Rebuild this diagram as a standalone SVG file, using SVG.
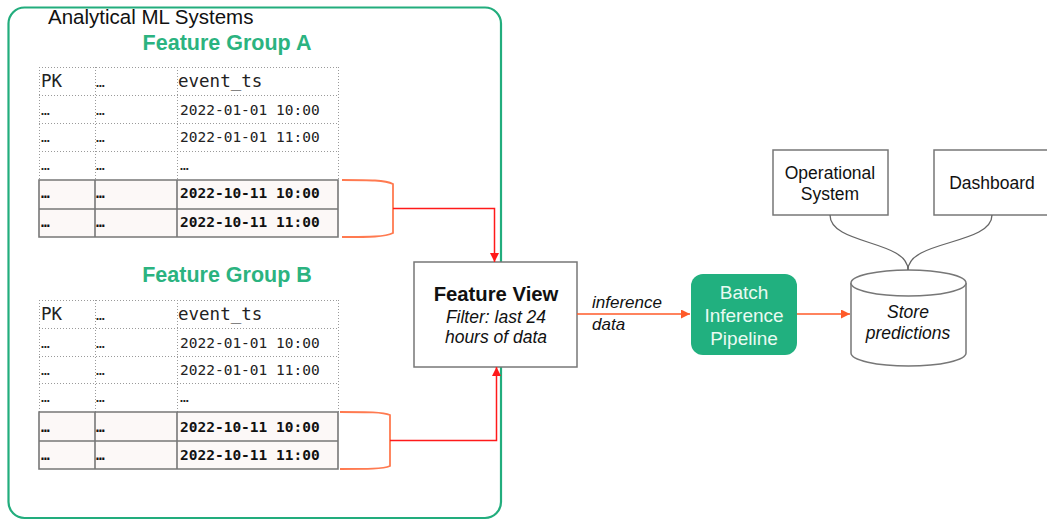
<svg xmlns="http://www.w3.org/2000/svg" width="1047" height="520" viewBox="0 0 1047 520">
  <style>
    .sans { font-family: "Liberation Sans", Arial, sans-serif; }
    .mono { font-family: "DejaVu Sans Mono", "Liberation Mono", monospace; font-size: 14.5px; fill: #222; }
    .mono-b { font-family: "DejaVu Sans Mono", "Liberation Mono", monospace; font-size: 14.5px; font-weight: bold; fill: #111; }
    .hdr { font-family: "DejaVu Sans Mono", "Liberation Mono", monospace; font-size: 17.5px; fill: #222; }
    .dots { stroke: #9a9a9a; stroke-width: 1; stroke-dasharray: 1 2; fill: none; }
    .solid { stroke: #777; stroke-width: 1.6; fill: none; }
    .hl { fill: #fcf8f7; }
    .box { fill: #fff; stroke: #777; stroke-width: 1.5; }
    .title { font-family: "Liberation Sans", Arial, sans-serif; font-size: 21.5px; font-weight: bold; fill: #2bb380; }
    .brace { stroke: #ff7a50; stroke-width: 1.8; fill: none; }
    .feed { stroke: #ff1a1a; stroke-width: 1.5; fill: none; }
    .flow { stroke: #ff5a28; stroke-width: 1.5; fill: none; }
    .link { stroke: #666; stroke-width: 1.3; fill: none; }
  </style>
  <defs>
    <marker id="arrRed" viewBox="0 0 10 10" refX="10" refY="5" markerWidth="11" markerHeight="9" markerUnits="userSpaceOnUse" orient="auto">
      <path d="M0,0 L10,5 L0,10 z" fill="#ff1a1a"/>
    </marker>
    <marker id="arrOrange" viewBox="0 0 10 10" refX="10" refY="5" markerWidth="10" markerHeight="9" markerUnits="userSpaceOnUse" orient="auto">
      <path d="M0,0 L10,5 L0,10 z" fill="#ff5a28"/>
    </marker>
  </defs>

  <rect width="1047" height="520" fill="#fff"/>

  <!-- Analytical ML Systems container -->
  <g id="analytical-systems">
    <rect x="8.5" y="7.5" width="492.5" height="510.5" rx="16" fill="none" stroke="#22ad7d" stroke-width="2.2"/>
    <text x="48" y="24" class="sans" font-size="20.5" fill="#111">Analytical ML Systems</text>
  </g>

  <!-- Feature Group A table -->
  <g id="feature-group-a">
    <text x="227" y="50" class="title" text-anchor="middle">Feature Group A</text>
    <rect x="39" y="180" width="299" height="57" class="hl"/>
    <path class="dots" d="M39,67.5 H338 M39,95.5 H338 M39,123.5 H338 M39,151.5 H338 M39.5,67 V180 M95.5,67 V180 M177.5,67 V180 M338.5,67 V180"/>
    <path class="solid" d="M39,180 H338 V237 H39 Z M39,209 H338 M95,180 V237 M177,180 V237"/>
    <text x="41" y="87" class="hdr">PK</text>
    <text x="96" y="87" class="mono">…</text>
    <text x="178" y="87" class="hdr">event_ts</text>
    <text x="41" y="115" class="mono">…</text>
    <text x="96" y="115" class="mono">…</text>
    <text x="180" y="115" class="mono">2022-01-01 10:00</text>
    <text x="41" y="142" class="mono">…</text>
    <text x="96" y="142" class="mono">…</text>
    <text x="180" y="142" class="mono">2022-01-01 11:00</text>
    <text x="41" y="170" class="mono">…</text>
    <text x="96" y="170" class="mono">…</text>
    <text x="180" y="170" class="mono">…</text>
    <text x="41" y="198" class="mono-b">…</text>
    <text x="96" y="198" class="mono-b">…</text>
    <text x="180" y="198" class="mono-b">2022-10-11 10:00</text>
    <text x="41" y="227" class="mono-b">…</text>
    <text x="96" y="227" class="mono-b">…</text>
    <text x="180" y="227" class="mono-b">2022-10-11 11:00</text>
  </g>

  <!-- Feature Group B table -->
  <g id="feature-group-b">
    <text x="227" y="282" class="title" text-anchor="middle">Feature Group B</text>
    <rect x="39" y="412" width="299" height="57" class="hl"/>
    <path class="dots" d="M39,300.5 H338 M39,328.5 H338 M39,356.5 H338 M39,383.5 H338 M39.5,300 V412 M95.5,300 V412 M177.5,300 V412 M338.5,300 V412"/>
    <path class="solid" d="M39,412 H338 V469 H39 Z M39,441 H338 M95,412 V469 M177,412 V469"/>
    <text x="41" y="320" class="hdr">PK</text>
    <text x="96" y="320" class="mono">…</text>
    <text x="178" y="320" class="hdr">event_ts</text>
    <text x="41" y="348" class="mono">…</text>
    <text x="96" y="348" class="mono">…</text>
    <text x="180" y="348" class="mono">2022-01-01 10:00</text>
    <text x="41" y="375" class="mono">…</text>
    <text x="96" y="375" class="mono">…</text>
    <text x="180" y="375" class="mono">2022-01-01 11:00</text>
    <text x="41" y="402" class="mono">…</text>
    <text x="96" y="402" class="mono">…</text>
    <text x="180" y="402" class="mono">…</text>
    <text x="41" y="432" class="mono-b">…</text>
    <text x="96" y="432" class="mono-b">…</text>
    <text x="180" y="432" class="mono-b">2022-10-11 10:00</text>
    <text x="41" y="460" class="mono-b">…</text>
    <text x="96" y="460" class="mono-b">…</text>
    <text x="180" y="460" class="mono-b">2022-10-11 11:00</text>
  </g>

  <!-- Feature View -->
  <g id="feature-view">
    <rect x="414" y="262" width="163" height="105" class="box"/>
    <text x="496" y="301" class="sans" font-size="20.3" font-weight="bold" fill="#111" text-anchor="middle">Feature View</text>
    <text x="496" y="323" class="sans" font-size="17.5" font-style="italic" fill="#111" text-anchor="middle">Filter: last 24</text>
    <text x="496" y="343" class="sans" font-size="17.5" font-style="italic" fill="#111" text-anchor="middle">hours of data</text>
  </g>

  <!-- Batch Inference Pipeline -->
  <g id="batch-inference-pipeline">
    <rect x="691" y="274" width="106" height="81" rx="12" fill="#21b07f"/>
    <text x="744" y="299" class="sans" font-size="19" fill="#eafaf2" text-anchor="middle">Batch</text>
    <text x="744" y="322" class="sans" font-size="19" fill="#eafaf2" text-anchor="middle">Inference</text>
    <text x="744" y="345" class="sans" font-size="19" fill="#eafaf2" text-anchor="middle">Pipeline</text>
  </g>

  <!-- Prediction store -->
  <g id="store-predictions">
    <path d="M851,283 V353 A57.5,13 0 0 0 966,353 V283" fill="#fff" stroke="#777" stroke-width="1.5"/>
    <ellipse cx="908.5" cy="283" rx="57.5" ry="13" fill="#fff" stroke="#777" stroke-width="1.5"/>
    <text x="908" y="318" class="sans" font-size="17.5" font-style="italic" fill="#111" text-anchor="middle">Store</text>
    <text x="908" y="339" class="sans" font-size="17.5" font-style="italic" fill="#111" text-anchor="middle">predictions</text>
  </g>

  <!-- Operational System -->
  <g id="operational-system">
    <rect x="773" y="150" width="115" height="65" class="box"/>
    <text x="830" y="179" class="sans" font-size="17.5" fill="#111" text-anchor="middle">Operational</text>
    <text x="830" y="200" class="sans" font-size="17.5" fill="#111" text-anchor="middle">System</text>
  </g>

  <!-- Dashboard -->
  <g id="dashboard">
    <rect x="934" y="150" width="120" height="65" class="box"/>
    <text x="992" y="189" class="sans" font-size="17.5" fill="#111" text-anchor="middle">Dashboard</text>
  </g>

  <!-- Connectors -->
  <g id="connectors">
    <!-- row selection braces -->
    <path class="brace" d="M342,180 C370,180 385,180 393,184 V233 C385,237 370,237 342,237"/>
    <path class="brace" d="M340,412 C368,412 383,412 390,415 V466 C383,469 368,469 340,469"/>
    <!-- selected rows into the feature view -->
    <path class="feed" d="M393,208.5 H494.5 V262" marker-end="url(#arrRed)"/>
    <path class="feed" d="M390,440.5 H496.5 V367" marker-end="url(#arrRed)"/>
    <!-- inference data flow -->
    <path class="flow" d="M577,314 H690" marker-end="url(#arrOrange)"/>
    <text x="592" y="308" class="sans" font-size="17" font-style="italic" fill="#111">inference</text>
    <text x="592" y="330" class="sans" font-size="17" font-style="italic" fill="#111">data</text>
    <path class="flow" d="M797,314 H850" marker-end="url(#arrOrange)"/>
    <!-- consumers of stored predictions -->
    <path class="link" d="M830,215 C830,245 908,240 908,270"/>
    <path class="link" d="M992,215 C992,245 908,240 908,270"/>
  </g>
</svg>
